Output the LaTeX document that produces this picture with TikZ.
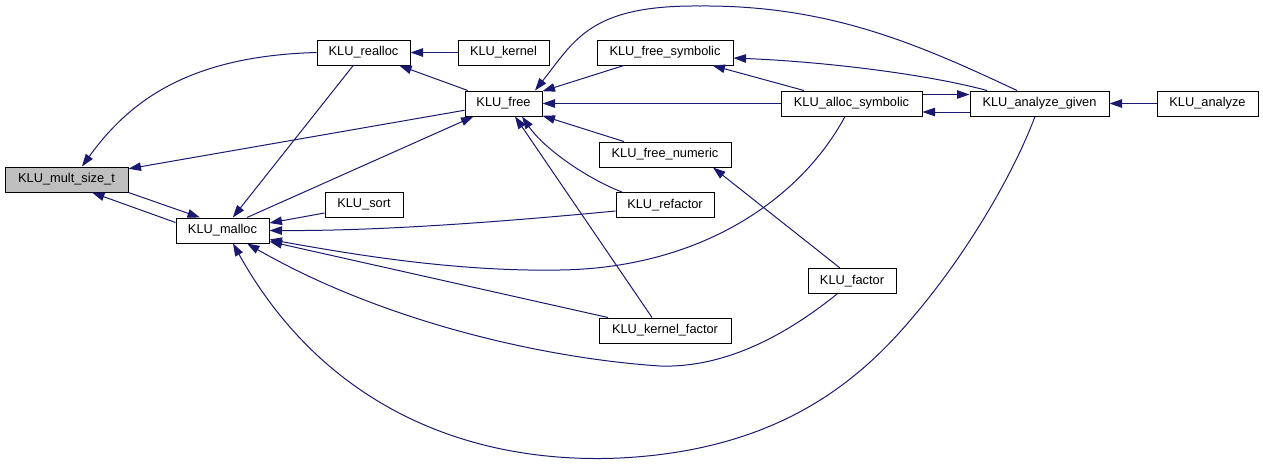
\documentclass[tikz,border=0pt]{standalone}
\usepackage{fontspec}
\setmainfont{Liberation Sans}
\usetikzlibrary{arrows.meta}
\definecolor{edgeblue}{RGB}{25,25,112}
\definecolor{rootgray}{RGB}{191,191,191}
\tikzset{
  fnbox/.style={draw=black, fill=white, line width=1pt, inner sep=0pt,
    minimum height=25pt, font=\fontsize{12.8}{15}\selectfont},
  callarrow/.style={draw=edgeblue, line width=1pt, -{Triangle[length=12.5pt,width=8.5pt]}}
}

\begin{document}
\begin{tikzpicture}[x=1pt,y=-1pt]
  \useasboundingbox (0,0) rectangle (1263,464);

  \node[fnbox, fill=rootgray, minimum width=123pt] (mult) at (66.5,179.5) {KLU\_mult\_size\_t};
  \node[fnbox, minimum width=93pt] (realloc) at (363.5,52.5) {KLU\_realloc};
  \node[fnbox, minimum width=91pt] (kernel) at (503.5,52.5) {KLU\_kernel};
  \node[fnbox, minimum width=77pt] (free) at (503.5,103.5) {KLU\_free};
  \node[fnbox, minimum width=93pt] (malloc) at (222.5,230.5) {KLU\_malloc};
  \node[fnbox, minimum width=78pt] (sort) at (364,204.5) {KLU\_sort};
  \node[fnbox, minimum width=136pt] (freesym) at (665,52.5) {KLU\_free\_symbolic};
  \node[fnbox, minimum width=132pt] (freenum) at (665,154.5) {KLU\_free\_numeric};
  \node[fnbox, minimum width=98pt] (refactor) at (665,205) {KLU\_refactor};
  \node[fnbox, minimum width=132pt] (kernfact) at (665,330.5) {KLU\_kernel\_factor};
  \node[fnbox, minimum width=141pt] (allocsym) at (851.5,103.5) {KLU\_alloc\_symbolic};
  \node[fnbox, minimum width=88pt] (factor) at (852,281) {KLU\_factor};
  \node[fnbox, minimum width=139pt] (angiven) at (1039.5,103.5) {KLU\_analyze\_given};
  \node[fnbox, minimum width=101pt] (analyze) at (1207.5,103.5) {KLU\_analyze};

  \draw[callarrow] (realloc.west) .. controls (190,56) and (130,100) .. ([xshift=15.5pt]mult.north);
  \draw[callarrow] (free) -- (mult);
  \draw[callarrow] (mult.south east) -- ([xshift=-22.5pt]malloc.north);
  \draw[callarrow] ([yshift=-5pt]malloc.north west) -- ([xshift=25.5pt]mult.south);
  \draw[callarrow] (realloc) -- (malloc);
  \draw[callarrow] (kernel) -- (realloc);
  \draw[callarrow] (free) -- (realloc);
  \draw[callarrow] ([xshift=24.5pt]malloc.north) -- ([xshift=-30pt]free.south);
  \draw[callarrow] (freesym) -- (free);
  \draw[callarrow] ([xshift=-22.5pt]angiven.north) .. controls (920,45) and (830,5) .. (700,6)
    .. controls (590,5) and (575,40) .. ([xshift=31.5pt]free.north);
  \draw[callarrow] (allocsym) -- (free);
  \draw[callarrow] (freenum) -- (free);
  \draw[callarrow] ([xshift=-43pt]refactor.north) .. controls (590,180) and (545,150) .. ([xshift=18.5pt]free.south);
  \draw[callarrow] ([xshift=-13pt]kernfact.north) -- ([xshift=11.5pt]free.south);
  \draw[callarrow] ([xshift=-52.5pt]angiven.north) .. controls (930,75) and (830,62) .. ([yshift=-5.5pt]freesym.east);
  \draw[callarrow] (allocsym) -- (freesym);
  \draw[callarrow] ([yshift=9pt]allocsym.east) -- ([yshift=9pt]angiven.west);
  \draw[callarrow] ([yshift=-8.5pt]angiven.west) -- ([yshift=-8.5pt]allocsym.east);
  \draw[callarrow] (analyze) -- (angiven);
  \draw[callarrow] ([xshift=-12pt]factor.north) -- ([xshift=48pt]freenum.south);
  \draw[callarrow] ([yshift=-8.5pt]sort.west) -- ([yshift=7.5pt]malloc.east);
  \draw[callarrow] ([yshift=-6pt]refactor.west) .. controls (500,222) and (380,231) .. (malloc.east);
  \draw[callarrow] ([xshift=-6.5pt]allocsym.south) .. controls (800,200) and (700,268) .. (560,270)
    .. controls (450,272) and (340,252) .. ([yshift=-9pt]malloc.east);
  \draw[callarrow] ([xshift=-57pt]kernfact.north) -- ([yshift=-11pt]malloc.east);
  \draw[callarrow] ([xshift=-15pt]factor.south) .. controls (780,340) and (720,368) .. (660,366)
    .. controls (540,358) and (380,320) .. ([xshift=24.5pt]malloc.south);
  \draw[callarrow] ([xshift=-4.5pt]angiven.south) .. controls (1015,170) and (970,250) .. (913,317)
    .. controls (860,380) and (780,450) .. (620,458)
    .. controls (460,465) and (320,400) .. ([xshift=10.5pt]malloc.south);
\end{tikzpicture}
\end{document}
